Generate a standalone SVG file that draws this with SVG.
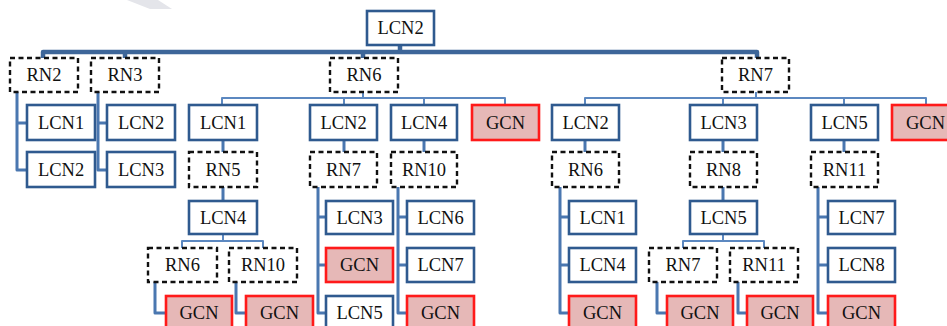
<svg xmlns="http://www.w3.org/2000/svg" width="947" height="326" viewBox="0 0 947 326">
  <style>
    .lcn rect { fill: #ffffff; stroke: #2f5a8f; stroke-width: 2.6; }
    .rn rect { fill: #ffffff; stroke: #111111; stroke-width: 2.4; stroke-dasharray: 5 3.5; }
    .gcn rect { fill: #e6b8b7; stroke: #ff1a1a; stroke-width: 2.6; }
    text { font-family: "Liberation Serif", "Times New Roman", serif; font-size: 18.5px; fill: #111111; text-anchor: middle; dominant-baseline: central; }
    .bus { fill: none; stroke: #3d6699; stroke-width: 4.5; stroke-linejoin: round; stroke-linecap: butt; }
    .thin { fill: none; stroke: #5c88c0; stroke-width: 2; stroke-linejoin: round; }
    .side { fill: none; stroke: #4a77b0; stroke-width: 3; stroke-linejoin: round; }
  </style>

  <!-- faint diagonal stripe in the top corner -->
  <polygon points="127,0 158,0 172,9 150,9" fill="#e4e5ea"/>

  <g id="connectors">
    <!-- root bus -->
    <path class="bus" d="M43,58 V52 H757 V58"/>
    <path class="bus" d="M125,52 V58 M363,52 V58 M400,45 V52"/>
    <!-- RN6 (top) bus -->
    <path class="thin" d="M222,105 V98 H505 V105 M344,98 V105 M424,98 V105 M363,92 V98"/>
    <!-- RN7 (top) bus -->
    <path class="thin" d="M585,105 V98 H926 V105 M723,98 V105 M844,98 V105 M756,92 V98"/>
    <!-- RN2 / RN3 side links -->
    <path class="side" d="M17,92 V170 H27 M17,123 H27"/>
    <path class="side" d="M98,92 V170 H107 M98,123 H107"/>
    <!-- LCN1 - RN5 - LCN4 chain -->
    <path class="side" d="M223,140 V152 M223,187 V201"/>
    <path class="thin" d="M223,234 V241 M182,248 V241 H263 V248"/>
    <path class="side" d="M155,282 V313 H166 M236,282 V313 H246"/>
    <!-- LCN2 - RN7 column -->
    <path class="side" d="M344,140 V152"/>
    <path class="side" d="M318,187 V313 H326 M318,217 H326 M318,265 H326"/>
    <!-- LCN4 - RN10 column -->
    <path class="side" d="M424,140 V152"/>
    <path class="side" d="M398,187 V313 H407 M398,217 H407 M398,265 H407"/>
    <!-- LCN2 - RN6 column (right) -->
    <path class="side" d="M585,140 V152"/>
    <path class="side" d="M560,187 V313 H569 M560,217 H569 M560,265 H569"/>
    <!-- LCN3 - RN8 - LCN5 chain -->
    <path class="side" d="M723,140 V152 M723,187 V201"/>
    <path class="thin" d="M723,234 V241 M683,248 V241 H764 V248"/>
    <path class="side" d="M657,282 V313 H667 M738,282 V313 H747"/>
    <!-- LCN5 - RN11 column -->
    <path class="side" d="M844,140 V152"/>
    <path class="side" d="M818,187 V313 H828 M818,217 H828 M818,265 H828"/>
  </g>

  <!-- root -->
  <g id="root-lcn2" class="lcn"><rect x="367" y="11" width="67" height="34"/><text x="400.5" y="28">LCN2</text></g>

  <!-- level 1 -->
  <g id="rn2" class="rn"><rect x="10" y="58" width="68" height="34"/><text x="44" y="75">RN2</text></g>
  <g id="rn3" class="rn"><rect x="91" y="58" width="68" height="34"/><text x="125" y="75">RN3</text></g>
  <g id="rn6" class="rn"><rect x="330" y="58" width="68" height="34"/><text x="364" y="75">RN6</text></g>
  <g id="rn7" class="rn"><rect x="722" y="58" width="67" height="34"/><text x="755.5" y="75">RN7</text></g>

  <!-- RN2 / RN3 children -->
  <g id="rn2-lcn1" class="lcn"><rect x="27" y="105" width="68" height="35"/><text x="61" y="122.5">LCN1</text></g>
  <g id="rn2-lcn2" class="lcn"><rect x="27" y="152" width="68" height="35"/><text x="61" y="169.5">LCN2</text></g>
  <g id="rn3-lcn2" class="lcn"><rect x="107" y="105" width="68" height="35"/><text x="141" y="122.5">LCN2</text></g>
  <g id="rn3-lcn3" class="lcn"><rect x="107" y="152" width="68" height="35"/><text x="141" y="169.5">LCN3</text></g>

  <!-- RN6 subtree -->
  <g id="rn6-lcn1" class="lcn"><rect x="189" y="105" width="68" height="35"/><text x="223" y="122.5">LCN1</text></g>
  <g id="rn5" class="rn"><rect x="189" y="152" width="68" height="35"/><text x="223" y="169.5">RN5</text></g>
  <g id="rn5-lcn4" class="lcn"><rect x="189" y="201" width="68" height="33"/><text x="223" y="217.5">LCN4</text></g>
  <g id="rn5-rn6" class="rn"><rect x="148" y="248" width="69" height="34"/><text x="182.5" y="265">RN6</text></g>
  <g id="rn5-rn10" class="rn"><rect x="229" y="248" width="68" height="34"/><text x="263" y="265">RN10</text></g>
  <g id="rn6-gcn-a" class="gcn"><rect x="166" y="296" width="66" height="34"/><text x="199" y="313">GCN</text></g>
  <g id="rn10-gcn-a" class="gcn"><rect x="246" y="296" width="67" height="34"/><text x="279.5" y="313">GCN</text></g>

  <g id="rn6-lcn2" class="lcn"><rect x="310" y="105" width="67" height="35"/><text x="343.5" y="122.5">LCN2</text></g>
  <g id="rn6-rn7" class="rn"><rect x="310" y="152" width="67" height="35"/><text x="343.5" y="169.5">RN7</text></g>
  <g id="rn7-lcn3" class="lcn"><rect x="326" y="201" width="67" height="33"/><text x="359.5" y="217.5">LCN3</text></g>
  <g id="rn7-gcn" class="gcn"><rect x="326" y="248" width="67" height="34"/><text x="359.5" y="265">GCN</text></g>
  <g id="rn7-lcn5" class="lcn"><rect x="326" y="296" width="67" height="34"/><text x="359.5" y="313">LCN5</text></g>

  <g id="rn6-lcn4" class="lcn"><rect x="391" y="105" width="66" height="35"/><text x="424" y="122.5">LCN4</text></g>
  <g id="rn6-rn10" class="rn"><rect x="391" y="152" width="66" height="35"/><text x="424" y="169.5">RN10</text></g>
  <g id="rn10-lcn6" class="lcn"><rect x="407" y="201" width="67" height="33"/><text x="440.5" y="217.5">LCN6</text></g>
  <g id="rn10-lcn7" class="lcn"><rect x="407" y="248" width="67" height="34"/><text x="440.5" y="265">LCN7</text></g>
  <g id="rn10-gcn" class="gcn"><rect x="407" y="296" width="67" height="34"/><text x="440.5" y="313">GCN</text></g>

  <g id="rn6-gcn" class="gcn"><rect x="472" y="105" width="67" height="35"/><text x="505.5" y="122.5">GCN</text></g>

  <!-- RN7 subtree -->
  <g id="rn7b-lcn2" class="lcn"><rect x="552" y="105" width="67" height="35"/><text x="585.5" y="122.5">LCN2</text></g>
  <g id="rn7b-rn6" class="rn"><rect x="552" y="152" width="67" height="35"/><text x="585.5" y="169.5">RN6</text></g>
  <g id="rn6b-lcn1" class="lcn"><rect x="569" y="201" width="67" height="33"/><text x="602.5" y="217.5">LCN1</text></g>
  <g id="rn6b-lcn4" class="lcn"><rect x="569" y="248" width="67" height="34"/><text x="602.5" y="265">LCN4</text></g>
  <g id="rn6b-gcn" class="gcn"><rect x="569" y="296" width="67" height="34"/><text x="602.5" y="313">GCN</text></g>

  <g id="rn7b-lcn3" class="lcn"><rect x="690" y="105" width="67" height="35"/><text x="723.5" y="122.5">LCN3</text></g>
  <g id="rn8" class="rn"><rect x="690" y="152" width="67" height="35"/><text x="723.5" y="169.5">RN8</text></g>
  <g id="rn8-lcn5" class="lcn"><rect x="690" y="201" width="67" height="33"/><text x="723.5" y="217.5">LCN5</text></g>
  <g id="rn8-rn7" class="rn"><rect x="649" y="248" width="68" height="34"/><text x="683" y="265">RN7</text></g>
  <g id="rn8-rn11" class="rn"><rect x="730" y="248" width="68" height="34"/><text x="764" y="265">RN11</text></g>
  <g id="rn7c-gcn" class="gcn"><rect x="667" y="296" width="66" height="34"/><text x="700" y="313">GCN</text></g>
  <g id="rn11c-gcn" class="gcn"><rect x="747" y="296" width="66" height="34"/><text x="780" y="313">GCN</text></g>

  <g id="rn7b-lcn5" class="lcn"><rect x="811" y="105" width="67" height="35"/><text x="844.5" y="122.5">LCN5</text></g>
  <g id="rn11" class="rn"><rect x="811" y="152" width="67" height="35"/><text x="844.5" y="169.5">RN11</text></g>
  <g id="rn11-lcn7" class="lcn"><rect x="828" y="201" width="67" height="33"/><text x="861.5" y="217.5">LCN7</text></g>
  <g id="rn11-lcn8" class="lcn"><rect x="828" y="248" width="67" height="34"/><text x="861.5" y="265">LCN8</text></g>
  <g id="rn11-gcn" class="gcn"><rect x="828" y="296" width="67" height="34"/><text x="861.5" y="313">GCN</text></g>

  <g id="rn7b-gcn" class="gcn"><rect x="892" y="105" width="67" height="35"/><text x="925.5" y="122.5">GCN</text></g>
</svg>
